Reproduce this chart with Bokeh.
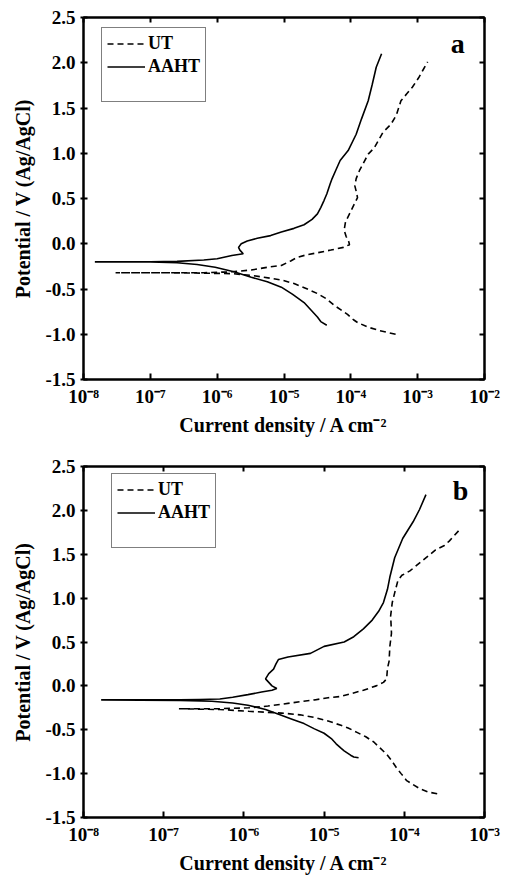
from bokeh.plotting import figure
from bokeh.models import (LinearAxis, FixedTicker, Legend, LegendItem, Label,
                          Range1d, CustomLabelingPolicy)
from bokeh.layouts import column
from bokeh.embed import file_html
from bokeh.resources import INLINE

# ---- data (x = log10 of current density / A cm^-2, y = potential / V) ----
# Panel a
a_ut_logi = [-3.33, -3.45, -3.57, -3.75, -3.90, -3.96, -4.05, -4.11, -4.25, -4.36,
             -4.50, -4.65, -4.85, -5.04, -5.30, -5.49, -5.78, -6.20, -6.80, -7.52,
             -6.80, -6.20, -5.78, -5.49, -5.25, -5.04, -4.90, -4.80, -4.65, -4.50,
             -4.30, -4.11, -4.02, -4.03, -4.07, -4.10, -4.08, -4.00, -3.90, -3.92,
             -3.94, -3.92, -3.87, -3.82, -3.74, -3.65, -3.52, -3.40, -3.32, -3.25,
             -3.16, -3.08, -2.98, -2.92, -2.85]
a_ut_e = [-1.00, -0.98, -0.96, -0.92, -0.87, -0.84, -0.78, -0.75, -0.68, -0.61,
          -0.55, -0.50, -0.44, -0.40, -0.37, -0.35, -0.33, -0.325, -0.32, -0.32,
          -0.32, -0.32, -0.31, -0.29, -0.26, -0.24, -0.19, -0.15, -0.12, -0.10,
          -0.07, -0.04, -0.01, 0.02, 0.08, 0.15, 0.24, 0.36, 0.51, 0.58,
          0.64, 0.72, 0.81, 0.88, 0.99, 1.06, 1.23, 1.32, 1.42, 1.58,
          1.66, 1.73, 1.84, 1.92, 2.01]

a_aaht_logi = [-4.36, -4.45, -4.50, -4.60, -4.70, -4.87, -5.04, -5.25, -5.49, -5.75,
               -6.03, -6.30, -6.60, -7.00, -7.83,
               -7.00, -6.60, -6.20, -6.00, -5.78, -5.61, -5.66, -5.68, -5.64, -5.55,
               -5.40, -5.20, -5.04, -4.85, -4.70, -4.58, -4.50, -4.45, -4.40, -4.36,
               -4.31, -4.28, -4.22, -4.16, -4.04, -3.92, -3.84, -3.74, -3.68, -3.62,
               -3.54]
a_aaht_e = [-0.90, -0.86, -0.81, -0.73, -0.65, -0.56, -0.48, -0.42, -0.37, -0.31,
            -0.26, -0.23, -0.21, -0.20, -0.20,
            -0.20, -0.195, -0.18, -0.165, -0.13, -0.11, -0.07, -0.04, 0.00, 0.03,
            0.06, 0.09, 0.13, 0.17, 0.21, 0.27, 0.33, 0.40, 0.48, 0.55,
            0.66, 0.72, 0.82, 0.92, 1.03, 1.21, 1.38, 1.58, 1.76, 1.95,
            2.10]

# Panel b
b_ut_logi = [-3.59, -3.70, -3.81, -3.90, -3.97, -4.04, -4.10, -4.16, -4.22, -4.30,
             -4.38, -4.48, -4.59, -4.70, -4.79, -4.95, -5.12, -5.30, -5.53, -5.94,
             -6.30, -6.81,
             -6.30, -5.94, -5.70, -5.53, -5.30, -5.12, -4.95, -4.79, -4.65, -4.51,
             -4.35, -4.26, -4.22, -4.21, -4.19, -4.18, -4.16, -4.17, -4.15, -4.12,
             -4.08, -4.03, -3.93, -3.77, -3.61, -3.50, -3.44, -3.32]
b_ut_e = [-1.23, -1.21, -1.17, -1.12, -1.08, -1.00, -0.93, -0.85, -0.78, -0.71,
          -0.64, -0.58, -0.53, -0.48, -0.45, -0.40, -0.36, -0.33, -0.31, -0.29,
          -0.27, -0.26,
          -0.26, -0.25, -0.23, -0.21, -0.18, -0.16, -0.135, -0.12, -0.085, -0.05,
          0.00, 0.04, 0.08, 0.20, 0.28, 0.45, 0.60, 0.80, 0.95, 1.06,
          1.20, 1.26, 1.31, 1.43, 1.55, 1.60, 1.65, 1.77]

b_aaht_logi = [-4.57, -4.63, -4.67, -4.75, -4.79, -4.85, -4.91, -5.00, -5.12, -5.25,
               -5.40, -5.55, -5.73, -5.95, -6.14, -6.40, -6.80, -7.78,
               -6.80, -6.55, -6.30, -6.14, -5.95, -5.78, -5.65, -5.59, -5.65, -5.71,
               -5.73, -5.69, -5.63, -5.60, -5.57, -5.45, -5.17, -5.00, -4.75, -4.63,
               -4.51, -4.40, -4.32, -4.26, -4.21, -4.18, -4.12, -4.02, -3.89, -3.81,
               -3.73]
b_aaht_e = [-0.82, -0.81, -0.79, -0.74, -0.71, -0.66, -0.60, -0.54, -0.49, -0.43,
            -0.38, -0.33, -0.27, -0.22, -0.195, -0.175, -0.165, -0.16,
            -0.16, -0.155, -0.15, -0.13, -0.10, -0.07, -0.05, -0.03, 0.00, 0.06,
            0.08, 0.14, 0.19, 0.25, 0.30, 0.33, 0.37, 0.45, 0.50, 0.56,
            0.65, 0.75, 0.85, 0.95, 1.10, 1.24, 1.46, 1.68, 1.87, 2.01,
            2.18]

y_ticks = [-1.5, -1.0, -0.5, 0.0, 0.5, 1.0, 1.5, 2.0, 2.5]
x_ticks_a = [-8, -7, -6, -5, -4, -3, -2]
x_ticks_b = [-8, -7, -6, -5, -4, -3]
x_tick_labels = {-8: "10⁻⁸", -7: "10⁻⁷", -6: "10⁻⁶", -5: "10⁻⁵",
                 -4: "10⁻⁴", -3: "10⁻³", -2: "10⁻²"}
series_names = ["UT", "AAHT"]

FONT = "Liberation Serif"
NO_LABELS = "return new Set()"


def style_axis(ax, tin=5, tout=0, labels=True):
    ax.axis_line_width = 2
    ax.axis_line_color = "black"
    ax.major_tick_line_width = 2
    ax.major_tick_line_color = "black"
    ax.minor_tick_line_color = None
    ax.major_tick_in = tin
    ax.major_tick_out = tout
    if not labels:
        ax.major_label_policy = CustomLabelingPolicy(code=NO_LABELS)
        ax.major_label_standoff = 0


def make_panel(height, top, bottom, xmax, xt, ut, aaht, letter, letter_pos,
               legend_loc):
    p = figure(width=509, height=height,
               x_range=Range1d(-8, xmax), y_range=Range1d(-1.5, 2.5),
               output_backend="svg", toolbar_location=None,
               min_border_left=83, min_border_right=19,
               min_border_top=top, min_border_bottom=bottom)
    p.grid.visible = False
    p.outline_line_color = "black"
    p.outline_line_width = 2
    p.background_fill_color = "white"
    p.border_fill_color = "white"

    xa = p.xaxis[0]
    xa.ticker = FixedTicker(ticks=xt)
    xa.major_label_overrides = {k: x_tick_labels[k] for k in xt}
    xa.axis_label = "Current density / A cm⁻²"
    style_axis(xa, tin=6, tout=0)
    xa.major_label_standoff = 6
    xa.axis_label_standoff = 4

    ya = p.yaxis[0]
    ya.ticker = FixedTicker(ticks=y_ticks)
    ya.major_label_overrides = {v: f"{v:.1f}" for v in y_ticks}
    ya.axis_label = "Potential / V (Ag/AgCl)"
    style_axis(ya, tin=4, tout=3)
    ya.major_label_standoff = 5
    ya.axis_label_standoff = 8

    for ax in (xa, ya):
        ax.major_label_text_font = FONT
        ax.major_label_text_font_style = "bold"
        ax.major_label_text_font_size = "19px"
        ax.major_label_text_color = "black"
        ax.axis_label_text_font = FONT
        ax.axis_label_text_font_style = "bold"
        ax.axis_label_text_font_size = "20px"
        ax.axis_label_text_color = "black"

    top_ax = LinearAxis(ticker=FixedTicker(ticks=xt))
    style_axis(top_ax, tin=5, tout=0, labels=False)
    p.add_layout(top_ax, "above")
    right_ax = LinearAxis(ticker=FixedTicker(ticks=y_ticks))
    style_axis(right_ax, tin=5, tout=0, labels=False)
    p.add_layout(right_ax, "right")

    r_ut = p.line(ut[0], ut[1], line_color="black", line_width=1.6,
                  line_dash="6 4")
    r_aa = p.line(aaht[0], aaht[1], line_color="black", line_width=1.6)
    r_blank = p.line([], [], line_alpha=0)

    legend = Legend(items=[LegendItem(label=series_names[0], renderers=[r_ut]),
                           LegendItem(label=series_names[1], renderers=[r_aa]),
                           LegendItem(label=" ", renderers=[r_blank])],
                    location=legend_loc)
    legend.label_text_font = FONT
    legend.label_text_font_style = "bold"
    legend.label_text_font_size = "18px"
    legend.label_text_color = "black"
    legend.border_line_color = "black"
    legend.border_line_width = 1
    legend.glyph_width = 38
    legend.glyph_height = 17
    legend.label_height = 17
    legend.label_standoff = 3
    legend.padding = 5
    legend.spacing = 2
    legend.margin = 0
    legend.background_fill_color = "white"
    legend.background_fill_alpha = 1
    p.add_layout(legend)

    p.add_layout(Label(x=letter_pos[0], y=letter_pos[1], text=letter,
                       text_font=FONT, text_font_style="bold",
                       text_font_size="28px", text_align="center",
                       text_baseline="middle", text_color="black"))
    return p


pa = make_panel(440, 17, 61, -2, x_ticks_a, (a_ut_logi, a_ut_e),
                (a_aaht_logi, a_aaht_e), "a", (-2.40, 2.21), (18, 277))
pb = make_panel(436, 26, 48, -3, x_ticks_b, (b_ut_logi, b_ut_e),
                (b_aaht_logi, b_aaht_e), "b", (-3.30, 2.23), (28, 269))

layout = column(pa, pb, spacing=0)
open("out.html", "w").write(file_html(layout, INLINE))
